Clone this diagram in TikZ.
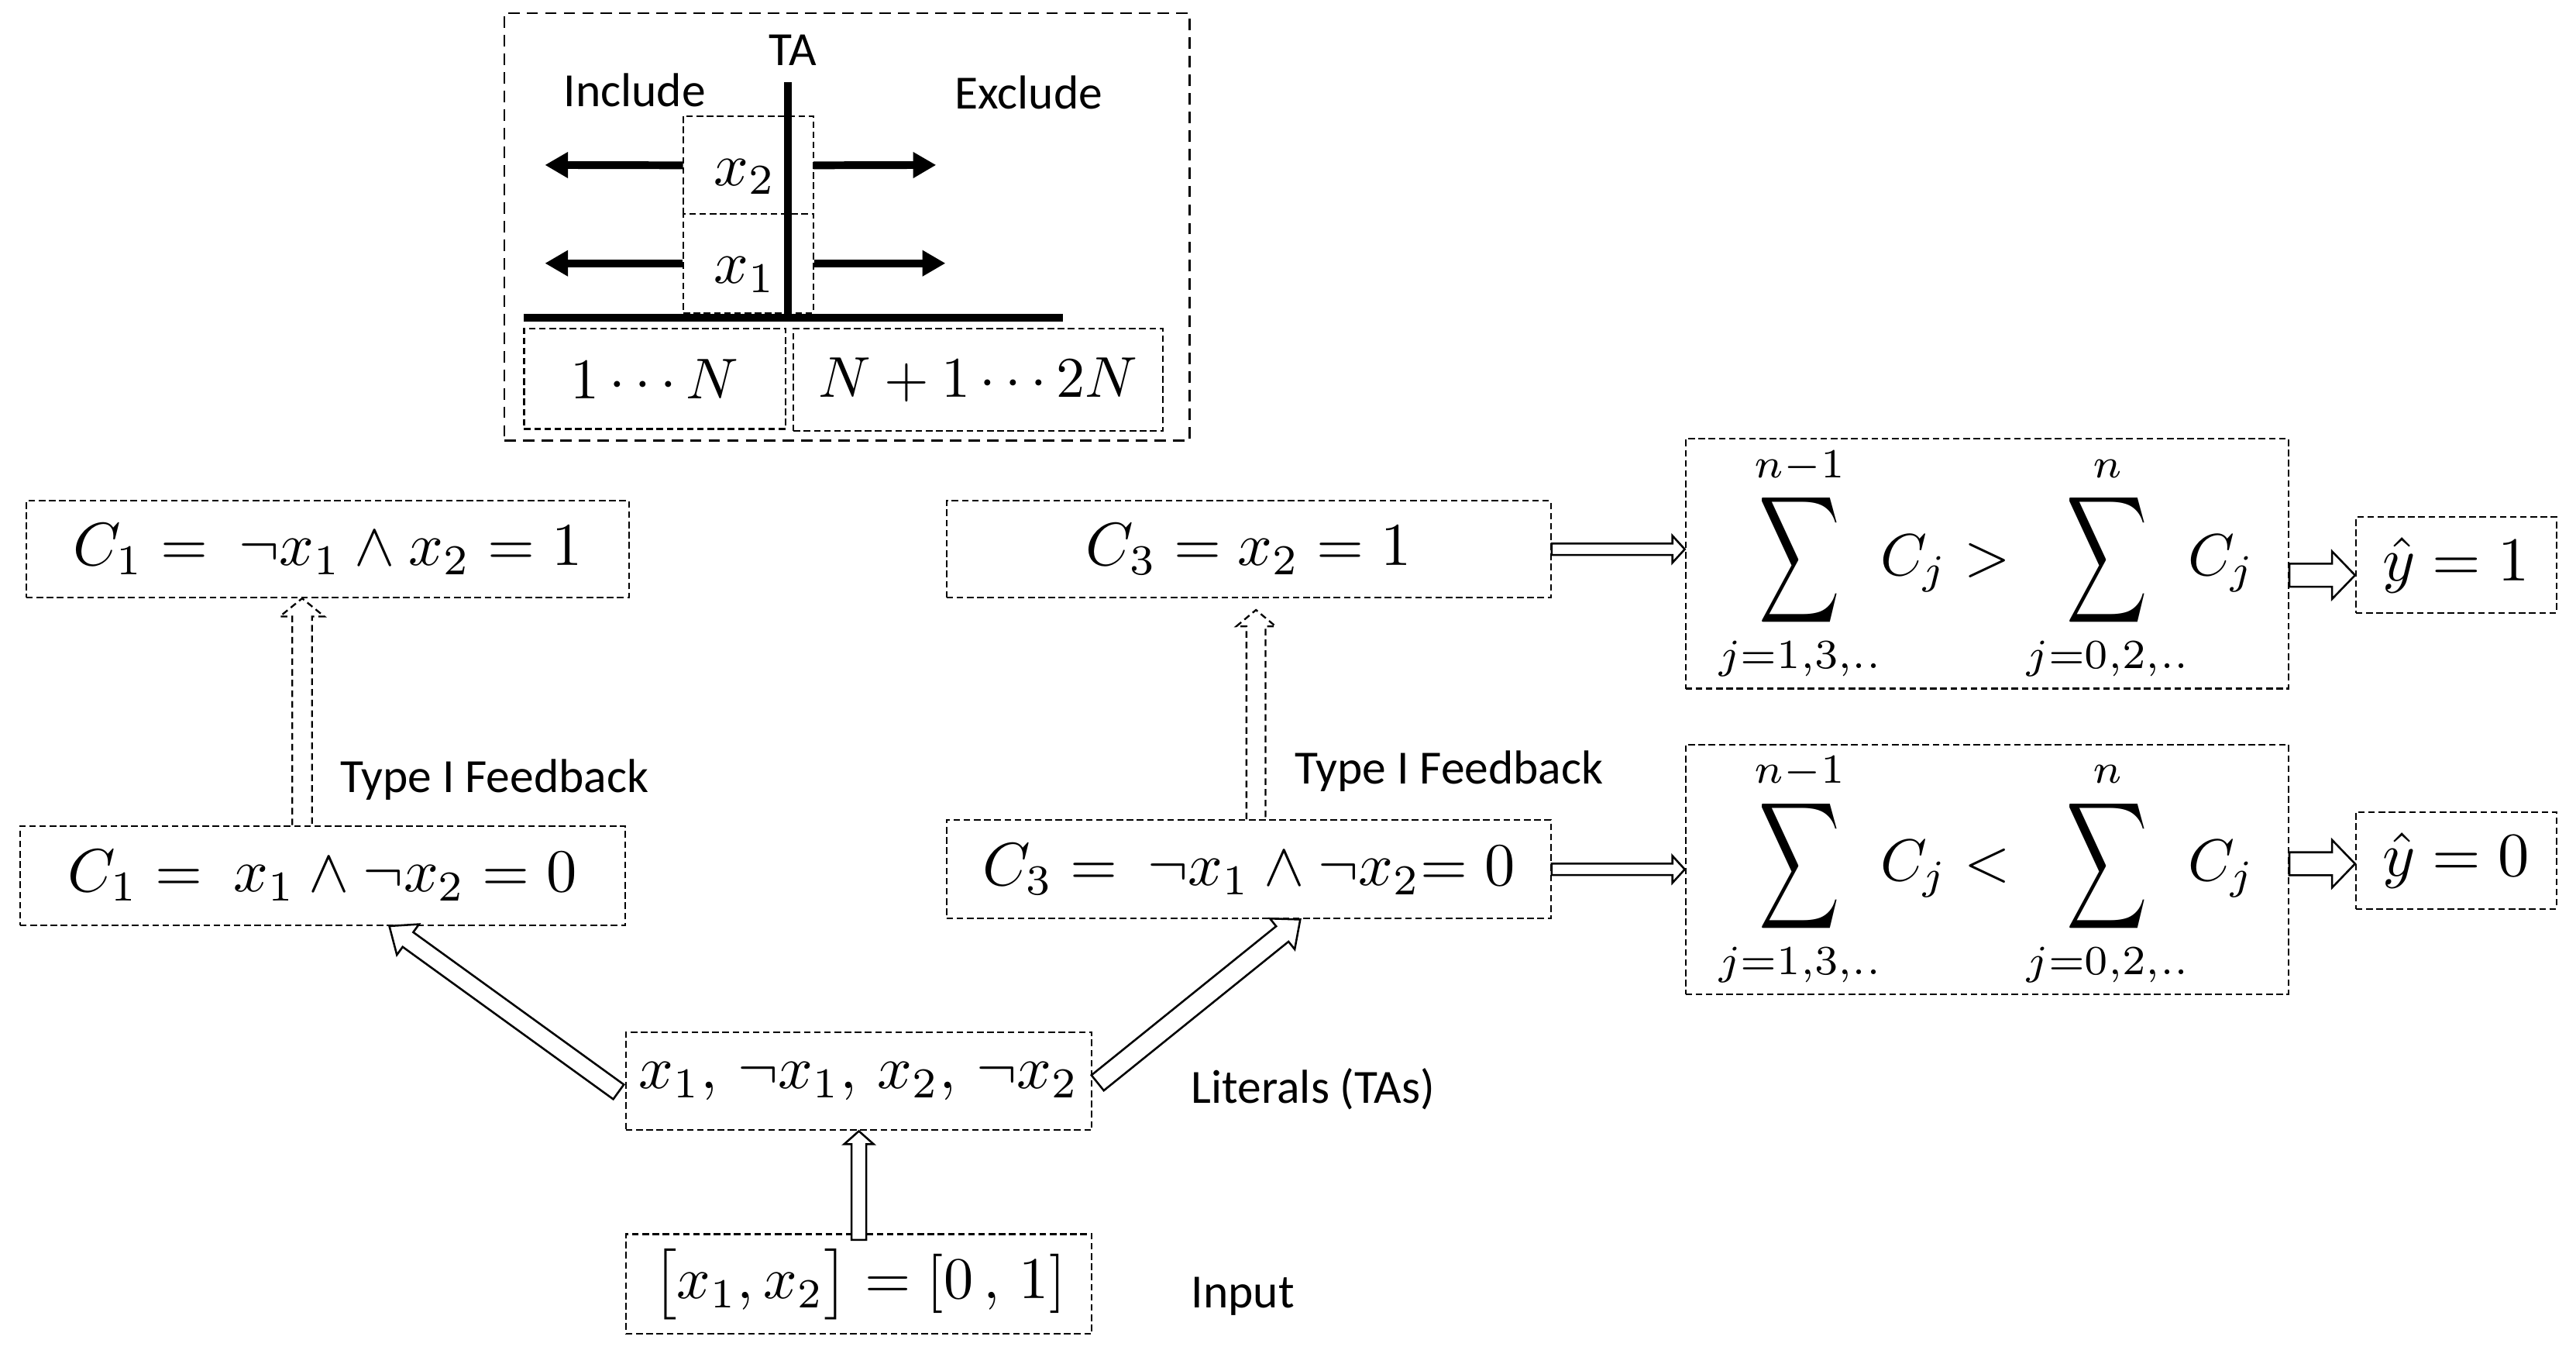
\documentclass[tikz,border=0pt]{standalone}
\usepackage[no-math]{fontspec}
\setmainfont{Carlito}
\usetikzlibrary{calc,arrows.meta}
\tikzset{
  box/.style={draw, line width=1pt, dash pattern=on 4pt off 2.2pt, inner sep=0pt},
  outerbox/.style={draw, line width=1.3pt, dash pattern=on 7pt off 4.3pt, inner sep=0pt},
  lbl/.style={font=\fontsize{29}{34}\selectfont, inner sep=0pt, anchor=base west},
  harrow/.style={draw, fill=white, line width=1.2pt, line join=miter},
  dharrow/.style={draw, line width=1.1pt, dash pattern=on 4pt off 2.5pt},
  thickarrow/.style={line width=4.7pt, -{Triangle[length=14pt,width=15pt]}},
}
\newcommand\mS[1]{\scalebox{3.7}{$#1$}}
\newcommand\bsum{\mathop{\vcenter{\hbox{\scalebox{0.95}[1.5]{$\displaystyle\sum$}}}}\limits}
\newcommand\blockarrow[7][harrow]{%
  \coordinate (hab) at ($(#3)!#6!(#2)$);
  \draw[#1] ($(#2)!#4!90:(#3)$) -- ($(hab)!#4!90:(#3)$) -- ($(hab)!#5!90:(#3)$) -- (#3) -- ($(hab)!#5!-90:(#3)$) -- ($(hab)!#4!-90:(#3)$) -- ($(#2)!#4!-90:(#3)$) #7;
}
\begin{document}
\begin{tikzpicture}[x=1pt,y=-1pt]
\useasboundingbox (0,0) rectangle (1568,825.7);
\fill[white] (0,0) rectangle (1568,825.7);

% ---- TA panel ----
\node[outerbox, minimum width=417pt, minimum height=260pt] (ta) at (515.5,138) {};
\node[inner sep=0pt, minimum width=79pt, minimum height=59.6pt] (x2box) at (455.5,100.6) {};
\draw[box] (x2box.south west) -- (x2box.north west) -- (x2box.north east) -- (x2box.south east);
\node[box, minimum width=79pt, minimum height=60.4pt] (x1box) at (455.5,160.2) {};
\node[inner sep=0pt] (x2t) at ($(x2box.center)+(-2,7)$) {\mS{x_2}};
\node[inner sep=0pt] (x1t) at ($(x1box.center)+(-2,7)$) {\mS{x_1}};
\coordinate (tatop) at (479.6,50);
\coordinate (tabot) at (479.6,193.3);
\coordinate (hl) at (319,193.3);
\coordinate (hr) at (647,193.3);
\draw[line width=5pt] (tatop) -- (tabot);
\draw[line width=4.7pt] (hl) -- (hr);
\coordinate (inc2) at (331.7,100.4);
\coordinate (exc2) at (569.8,100.4);
\coordinate (inc1) at (331.7,160.2);
\coordinate (exc1) at (575.5,160.2);
\draw[thickarrow] (x2box.west) -- (inc2);
\draw[thickarrow] (x2box.east) -- (exc2);
\draw[thickarrow] (x1box.west) -- (inc1);
\draw[thickarrow] (x1box.east) -- (exc1);
\node[lbl] (talbl) at (468,40) {TA};
\node[lbl] (inclbl) at (343,65) {Include};
\node[lbl] (exclbl) at (581,66.4) {Exclude};
\node[box, minimum width=159pt, minimum height=61pt] (r1) at (398.5,230.5) {\scalebox{3.5}{$1\cdots N$}};
\node[box, minimum width=225pt, minimum height=62pt] (r2) at (595.5,231) {\scalebox{3.5}{$N+1\cdots 2N$}};

% ---- clauses ----
\node[box, minimum width=367pt, minimum height=58.8pt] (c1t) at (199.5,334.2) {\mS{C_1 =\ \neg x_1 \wedge x_2 = 1}};
\node[box, minimum width=368.3pt, minimum height=60.4pt] (c1b) at (196.35,532.8) {\mS{C_1 =\ x_1 \wedge \neg x_2 = 0}};
\node[box, minimum width=367.8pt, minimum height=58.9pt] (c3t) at (760.1,334.2) {\mS{C_3 = x_2 = 1}};
\node[box, minimum width=367.8pt, minimum height=60pt] (c3b) at (760.1,529) {\mS{C_3 =\ \neg x_1 \wedge \neg x_2 {=}\; 0}};

% ---- sums and outputs ----
\node[box, minimum width=367pt, minimum height=152pt] (sT) at (1209.5,343) {\scalebox{3.6}{$\displaystyle\bsum_{j=1,3,..}^{n-1}\! C_j > \bsum_{j=0,2,..}^{n}\! C_j$}};
\node[box, minimum width=367pt, minimum height=152pt] (sB) at (1209.5,529) {\scalebox{3.6}{$\displaystyle\bsum_{j=1,3,..}^{n-1}\! C_j < \bsum_{j=0,2,..}^{n}\! C_j$}};
\node[box, minimum width=122pt, minimum height=58.4pt] (y1) at (1495,343.8) {\scalebox{3.8}{$\hat{y} = 1$}};
\node[box, minimum width=122pt, minimum height=59pt] (y0) at (1495,523.5) {\scalebox{3.8}{$\hat{y} = 0$}};

% ---- literals and input ----
\node[box, minimum width=283.6pt, minimum height=59.7pt] (lit) at (522.8,657.9) {\mS{x_1,\, \neg x_1,\, x_2,\, \neg x_2}};
\node[box, minimum width=283.6pt, minimum height=60.6pt] (inp) at (522.8,781.3) {\scalebox{3.6}{$\bigl[x_1, x_2\bigr] = [0\,,\,1]$}};

% ---- labels ----
\node[lbl] (fb1) at (207,482) {Type I Feedback};
\node[lbl] (fb3) at (788,477) {Type I Feedback};
\node[lbl] (litl) at (725,671.4) {Literals (TAs)};
\node[lbl] (inpl) at (725,795.8) {Input};

% ---- connectors ----
\coordinate (ia) at ($(inp.north)+(0,4)$);
\blockarrow{ia}{lit.south}{4.5pt}{9pt}{8pt}{-- cycle}
\coordinate (la) at ($(lit.west)+(-4,6.5)$);
\coordinate (lb) at ($(c1b.south west)!0.61!(c1b.south east)$);
\blockarrow{la}{lb}{5.5pt}{11.5pt}{14pt}{-- cycle}
\coordinate (ra) at ($(lit.east)+(3,1)$);
\coordinate (rb) at ($(c3b.south west)!0.585!(c3b.south east)$);
\blockarrow{ra}{rb}{6pt}{12pt}{14pt}{-- cycle}

\coordinate (f1a) at ($(c1b.north west)+(172.2,0)$);
\coordinate (f1b) at ($(c1t.south west)+(168.4,0)$);
\blockarrow[dharrow]{f1a}{f1b}{6pt}{13.5pt}{11pt}{}
\coordinate (f3a) at ($(c3b.north west)+(188.8,0)$);
\coordinate (f3b) at ($(c3t.south west)+(188.8,7)$);
\blockarrow[dharrow]{f3a}{f3b}{5.8pt}{12pt}{10pt}{}

\coordinate (s1b) at (c3t.east -| sT.west);
\blockarrow{c3t.east}{s1b}{3.5pt}{8.2pt}{7.5pt}{-- cycle}
\coordinate (s0b) at (c3b.east -| sB.west);
\blockarrow{c3b.east}{s0b}{3.5pt}{8.2pt}{7.5pt}{-- cycle}
\coordinate (o1a) at ($(sT.east)+(0,7)$);
\coordinate (o1b) at (o1a -| y1.west);
\blockarrow{o1a}{o1b}{7pt}{14.5pt}{14pt}{-- cycle}
\coordinate (o0a) at ($(sB.east)+(0,-3.4)$);
\coordinate (o0b) at (o0a -| y0.west);
\blockarrow{o0a}{o0b}{7pt}{14.5pt}{14pt}{-- cycle}
\end{tikzpicture}
\end{document}
